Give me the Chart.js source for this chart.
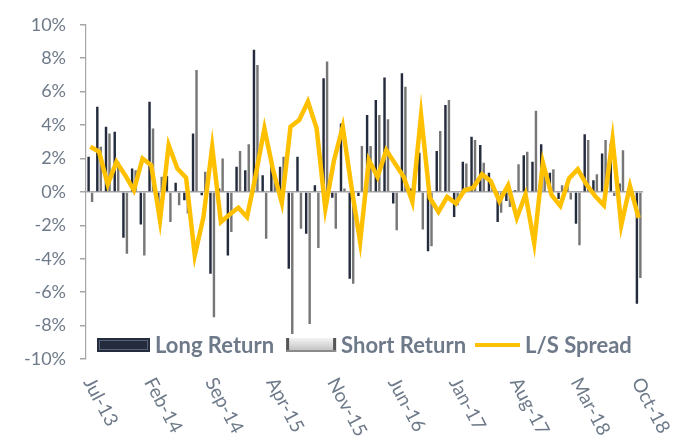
<!DOCTYPE html>
<html>
<head>
<meta charset="utf-8">
<script src="https://cdn.jsdelivr.net/npm/chart.js@4.4.1/dist/chart.umd.min.js"></script>
<style>
  html, body { margin: 0; padding: 0; background: #fff; }
  #wrap { width: 680px; height: 446px; }
</style>
</head>
<body>
<div id="wrap"><canvas id="lsChart" width="680" height="446"></canvas></div>
<script>
const months = [
    'Jul-13', 'Aug-13', 'Sep-13', 'Oct-13', 'Nov-13', 'Dec-13',
    'Jan-14', 'Feb-14', 'Mar-14', 'Apr-14', 'May-14', 'Jun-14', 'Jul-14', 'Aug-14', 'Sep-14', 'Oct-14', 'Nov-14', 'Dec-14',
    'Jan-15', 'Feb-15', 'Mar-15', 'Apr-15', 'May-15', 'Jun-15', 'Jul-15', 'Aug-15', 'Sep-15', 'Oct-15', 'Nov-15', 'Dec-15',
    'Jan-16', 'Feb-16', 'Mar-16', 'Apr-16', 'May-16', 'Jun-16', 'Jul-16', 'Aug-16', 'Sep-16', 'Oct-16', 'Nov-16', 'Dec-16',
    'Jan-17', 'Feb-17', 'Mar-17', 'Apr-17', 'May-17', 'Jun-17', 'Jul-17', 'Aug-17', 'Sep-17', 'Oct-17', 'Nov-17', 'Dec-17',
    'Jan-18', 'Feb-18', 'Mar-18', 'Apr-18', 'May-18', 'Jun-18', 'Jul-18', 'Aug-18', 'Sep-18', 'Oct-18'
];
// only every 7th month gets a label on the axis
const shownLabels = ['Jul-13', 'Feb-14', 'Sep-14', 'Apr-15', 'Nov-15', 'Jun-16', 'Jan-17', 'Aug-17', 'Mar-18', 'Oct-18'];

const longReturn = [
    2.1, 5.1, 3.9, 3.6, -2.75, 1.4, -1.95, 5.4, -0.8, 0.95, 0.55, -0.5, 3.5, -0.2, -4.9, 0.2,
    -3.8, 1.5, 1.3, 8.5, 1.0, 2.0, 1.5, -4.6, 2.1, -2.5, 0.4, 6.8, -0.35, 4.1, -5.2, -0.25,
    4.6, 5.5, 6.85, -0.7, 7.1, 0.2, 2.35, -3.55, 2.45, 5.2, -1.5, 1.8, 3.3, 2.8, 1.15, -1.8,
    -0.55, 0.1, 2.2, 1.8, 2.85, 1.15, -0.43, 0.35, -1.9, 3.45, 0.7, 2.3, 2.9, 0.5, 0.1, -6.7
];
const shortReturn = [
    -0.6, 2.7, 3.5, 1.8, -3.7, 1.3, -3.8, 3.8, 0.9, -1.8, -0.8, -1.3, 7.3, 1.2, -7.5, 2.0,
    -2.4, 2.45, 2.85, 7.6, -2.8, 0.7, 2.1, -8.5, -2.2, -7.9, -3.35, 7.8, -2.2, 0.2, -5.5, 2.75,
    2.75, 4.6, 4.35, -2.3, 6.3, 0.8, -2.25, -3.25, 3.65, 5.5, -0.8, 1.7, 3.1, 1.75, 0.5, -1.25,
    -0.9, 1.65, 2.4, 4.85, 1.1, 1.35, 0.4, -0.45, -3.2, 3.1, 1.05, 3.1, -0.25, 2.5, -0.25, -5.15
];
const lsSpread = [
    2.7, 2.4, 0.45, 1.8, 1.0, 0.1, 2.0, 1.6, -1.7, 2.8, 1.4, 0.85, -3.8, -1.5, 2.7, -1.8,
    -1.35, -0.95, -1.5, 1.0, 3.8, 1.3, -0.65, 3.9, 4.3, 5.4, 3.8, -1.0, 1.9, 3.9, 0.3, -3.0,
    1.9, 0.9, 2.5, 1.7, 0.9, -0.6, 4.6, -0.35, -1.2, -0.3, -0.7, 0.1, 0.25, 1.05, 0.65, -0.55,
    0.4, -1.55, -0.15, -3.05, 1.75, -0.2, -0.83, 0.8, 1.35, 0.45, -0.25, -0.8, 3.15, -2.0, 0.35, -1.55
];

const textColor = '#6e7a89';
const axisColor = '#a6a6a6';

// draws the rotated month labels and the in-plot legend
const extras = {
    id: 'extras',
    afterDraw(chart) {
        const { ctx, chartArea } = chart;
        const x = chart.scales.x;
        ctx.save();
        ctx.fillStyle = textColor;
        ctx.font = '19px Lato';
        ctx.textAlign = 'left';
        ctx.textBaseline = 'middle';
        months.forEach((m, i) => {
            if (!shownLabels.includes(m)) return;
            ctx.save();
            ctx.translate(x.getPixelForValue(i) - 2, chartArea.bottom + 20);
            ctx.rotate(62 * Math.PI / 180);
            ctx.fillText(m, 0, 0);
            ctx.restore();
        });

        // legend
        const cy = chartArea.bottom - 14;
        let lx = 97;
        ctx.font = 'bold 22px Lato';
        ctx.textBaseline = 'middle';
        const ds = chart.data.datasets;

        // long return box
        ctx.fillStyle = ds[1].backgroundColor;
        ctx.fillRect(lx, cy - 7, 53, 14);
        ctx.strokeStyle = '#56627a';
        ctx.lineWidth = 1;
        ctx.strokeRect(lx + 2.5, cy - 4.5, 48, 9);
        lx += 58;
        ctx.fillStyle = textColor;
        ctx.fillText(ds[1].label, lx, cy + 1);
        lx += ctx.measureText(ds[1].label).width + 12;

        // short return box
        const g = ctx.createLinearGradient(0, cy - 7, 0, cy + 7);
        g.addColorStop(0, '#f4f4f4');
        g.addColorStop(1, '#bdbdbd');
        ctx.fillStyle = g;
        ctx.fillRect(lx, cy - 7, 50, 14);
        ctx.fillStyle = '#555';
        ctx.fillRect(lx, cy - 7, 3, 14);
        ctx.fillRect(lx + 47, cy - 7, 3, 14);
        ctx.fillStyle = '#8a8a8a';
        ctx.fillRect(lx, cy + 5, 50, 2);
        lx += 55;
        ctx.fillStyle = textColor;
        ctx.fillText(ds[2].label, lx, cy + 1);
        lx += ctx.measureText(ds[2].label).width + 9;

        // spread line
        ctx.strokeStyle = ds[0].borderColor;
        ctx.lineWidth = 4;
        ctx.beginPath();
        ctx.moveTo(lx, cy);
        ctx.lineTo(lx + 45, cy);
        ctx.stroke();
        lx += 50;
        ctx.fillStyle = textColor;
        ctx.fillText(ds[0].label, lx, cy + 1);
        ctx.restore();
    }
};

const ctx = document.getElementById('lsChart').getContext('2d');
new Chart(ctx, {
    data: {
        labels: months,
        datasets: [
            {
                type: 'line',
                label: 'L/S Spread',
                data: lsSpread,
                borderColor: '#ffc000',
                borderWidth: 4.5,
                pointRadius: 0,
                tension: 0,
                order: 0
            },
            {
                type: 'bar',
                label: 'Long Return',
                data: longReturn,
                backgroundColor: '#232b3d',
                categoryPercentage: 0.8,
                barPercentage: 0.7,
                order: 1
            },
            {
                type: 'bar',
                label: 'Short Return',
                data: shortReturn,
                backgroundColor: '#777777',
                categoryPercentage: 0.8,
                barPercentage: 0.7,
                order: 2
            }
        ]
    },
    options: {
        responsive: false,
        animation: false,
        layout: { padding: { left: 0, top: 20, right: 37, bottom: 87 } },
        plugins: {
            legend: { display: false },
            tooltip: { enabled: false }
        },
        scales: {
            x: { display: false },
            y: {
                min: -10,
                max: 10,
                afterFit: s => { s.width = 86; },
                ticks: {
                    stepSize: 2,
                    color: textColor,
                    font: { family: 'Lato', size: 18 },
                    padding: 14,
                    callback: v => v + '%'
                },
                grid: {
                    color: c => c.tick && c.tick.value === 0 ? axisColor : 'transparent',
                    lineWidth: 1.5,
                    tickColor: axisColor,
                    tickLength: 6
                },
                border: { color: axisColor, width: 1.2 }
            }
        }
    },
    plugins: [extras]
});
</script>
</body>
</html>
